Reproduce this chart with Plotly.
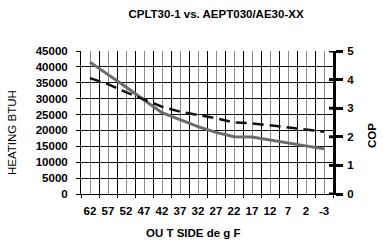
import plotly.graph_objects as go

categories = ["62", "57", "52", "47", "42", "37", "32", "27", "22", "17", "12", "7", "2", "-3"]
heating_btuh = [41500, 37700, 33700, 29600, 25600, 23400, 21200, 19400, 18000, 17900, 17000, 16000, 15000, 14200]
cop = [4.05, 3.84, 3.56, 3.31, 3.05, 2.88, 2.77, 2.65, 2.50, 2.47, 2.40, 2.33, 2.27, 2.18]
left_ticks = [0, 5000, 10000, 15000, 20000, 25000, 30000, 35000, 40000, 45000]
right_ticks = [0, 1, 2, 3, 4, 5]

xs = list(range(len(categories)))
FONT = "Arial, Liberation Sans, sans-serif"

fig = go.Figure()
fig.add_trace(go.Scatter(x=xs, y=heating_btuh, mode="lines", yaxis="y",
                         line=dict(color="#6b6b6b", width=3), showlegend=False))
fig.add_trace(go.Scatter(x=xs, y=cop, mode="lines", yaxis="y2",
                         line=dict(color="#111111", width=2.5, dash="11px,6px"), showlegend=False))

shapes = [dict(type="line", xref="paper", yref="y2", x0=1 - 4 / 252, x1=1, y0=v, y1=v,
               line=dict(color="black", width=3)) for v in right_ticks]

fig.update_layout(
    width=383, height=243,
    margin=dict(l=81, r=50, t=51, b=49),
    paper_bgcolor="white", plot_bgcolor="white",
    font=dict(family=FONT, size=11.5, color="black"),
    title=dict(text="<b>CPLT30-1 vs. AEPT030/AE30-XX</b>", x=216/383, xanchor="center",
               y=1 - 14/243, yanchor="middle", xref="container", yref="container",
               font=dict(size=11.5)),
    xaxis=dict(range=[-0.5, len(categories) - 0.5], tickmode="array", tickvals=xs,
               ticktext=["<b>%s</b>" % c for c in categories],
               showgrid=True, gridcolor="#8a8a8a", gridwidth=1,
               ticks="", showline=True, linecolor="black", linewidth=1,
               zeroline=False, ticklabelstandoff=6,
               minor=dict(tick0=-0.5, dtick=1,
                          showgrid=True, gridcolor="black", gridwidth=1,
                          ticks="outside", ticklen=3, tickcolor="black")),
    yaxis=dict(range=[0, 45000], tickmode="array", tickvals=left_ticks,
               ticktext=["<b>%d</b>" % v for v in left_ticks],
               showgrid=True, gridcolor="#111111", gridwidth=1, zeroline=False,
               showline=True, linecolor="black", linewidth=1,
               ticks="outside", ticklen=4, tickcolor="black", ticklabelstandoff=6),
    yaxis2=dict(range=[0, 5], overlaying="y", side="right", tickmode="array",
                tickvals=right_ticks, ticktext=["<b>%d</b>" % v for v in right_ticks],
                showgrid=False, zeroline=False, showline=True, linecolor="black", linewidth=3,
                ticks="outside", ticklen=7, tickwidth=3, tickcolor="black", ticklabelstandoff=2),
    shapes=shapes,
    annotations=[
        dict(text="HEATING BTUH", xref="paper", yref="paper", x=(12 - 81) / 252, y=(194 - 133) / 143,
             textangle=-90, showarrow=False, xanchor="center", yanchor="middle",
             font=dict(size=11.5)),
        dict(text="<b>COP</b>", xref="paper", yref="paper", x=(372 - 81) / 252, y=(194 - 136) / 143,
             textangle=-90, showarrow=False, xanchor="center", yanchor="middle",
             font=dict(size=11.5)),
        dict(text="<b>OU T SIDE de g F</b>", xref="paper", yref="paper", x=(193 - 81) / 252,
             y=(194 - 233) / 143, showarrow=False, xanchor="center", yanchor="middle",
             font=dict(size=11.5)),
    ],
)

fig.write_html("out.html", config={"displayModeBar": False},
               post_script="document.body.style.margin='0';")
